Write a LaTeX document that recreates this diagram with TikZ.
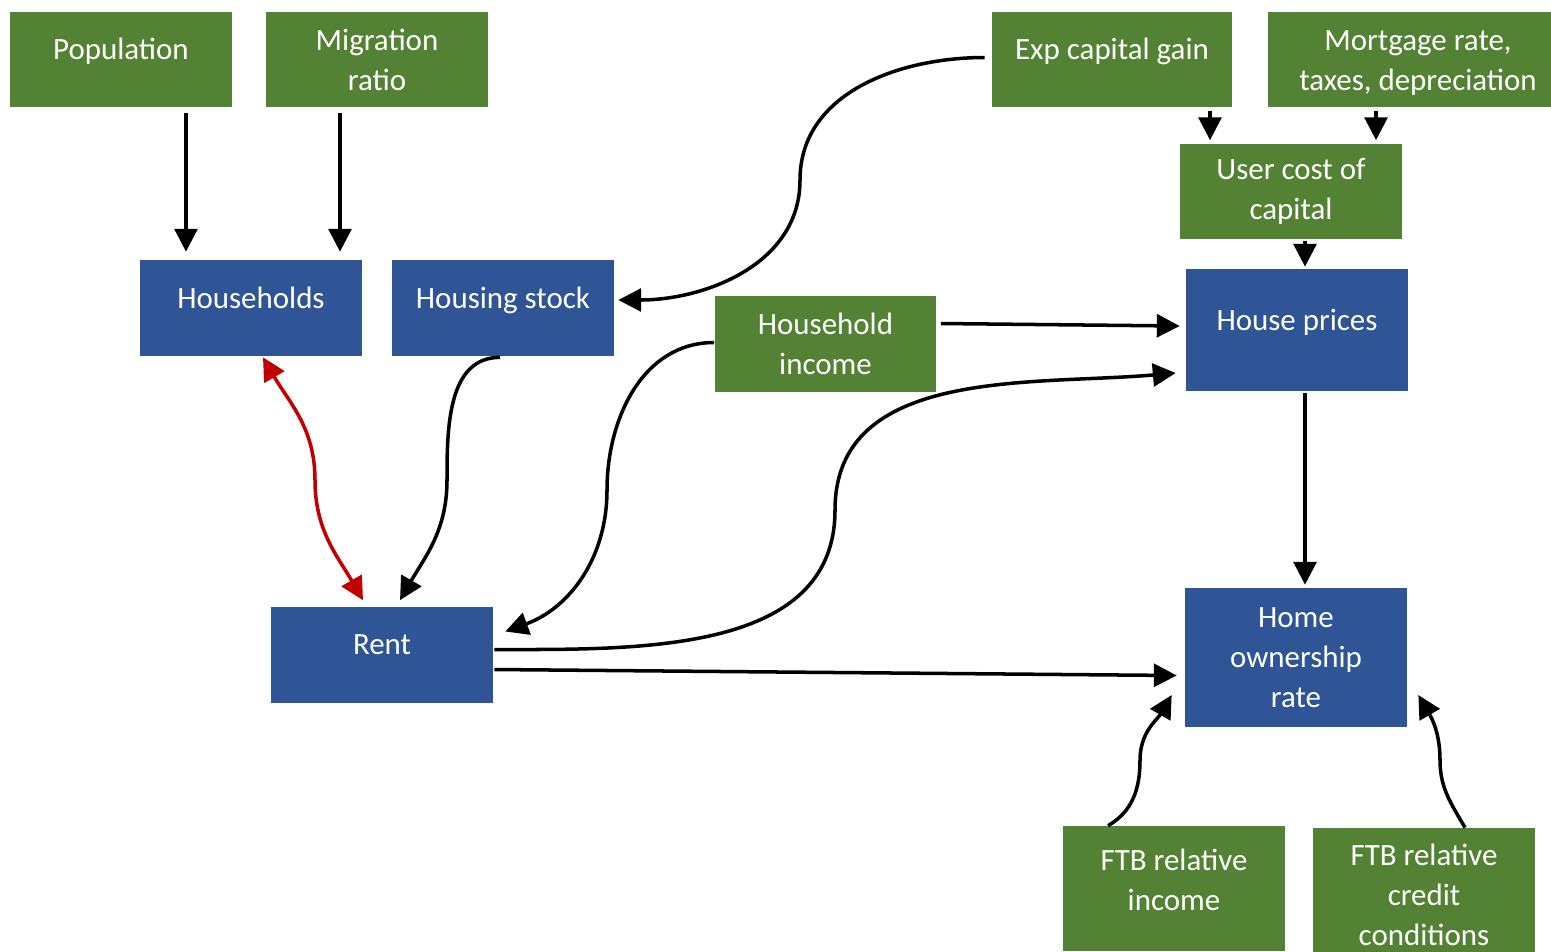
\documentclass[tikz,border=0pt]{standalone}
\usepackage{fontspec}
\setmainfont{Carlito}
\usetikzlibrary{arrows.meta,calc}
\definecolor{boxgreen}{HTML}{548235}
\definecolor{boxblue}{HTML}{2F5597}
\definecolor{linkred}{HTML}{C00000}
\begin{document}
\begin{tikzpicture}[x=0.02cm,y=-0.02cm,
    box/.style={rectangle,minimum width=4.44cm,minimum height=1.92cm,text=white,align=center,
        font=\fontsize{17.6}{22.8}\selectfont},
    gbox/.style={box,fill=boxgreen},
    bbox/.style={box,fill=boxblue},
    single/.style={text height=14pt,text depth=14pt},
    arr/.style={-{Triangle[length=13pt,width=13pt]},line width=2pt},
    redarr/.style={{Triangle[length=13pt,width=13pt]}-{Triangle[length=13pt,width=13pt]},line width=2pt,linkred}]
\useasboundingbox (0,0) rectangle (1551,951);

% exogenous inputs
\node[gbox,single] (pop) at (121,59.5) {Population};
\node[gbox] (mig) at (377,59.5) {Migration\\ratio};
\node[gbox,single,minimum width=4.8cm] (ecg) at (1112,59.5) {Exp capital gain};
\node[gbox,minimum width=6cm,text height=36pt,text depth=0.7pt] (mort) at (1418,59.5) {Mortgage rate,\\taxes, depreciation};
\node[gbox] (ucc) at (1291,191.5) {User cost of\\capital};
\node[gbox] (inc) at (825.5,343.5) {Household\\income};
\node[gbox,minimum height=2.5cm,text height=30pt,text depth=4.6pt] (ftbi) at (1174,888.5) {FTB relative\\income};
\node[gbox,minimum height=2.68cm] (ftbc) at (1424,895) {FTB relative\\credit\\conditions};

% model variables
\node[bbox,single] (hh) at (251,308) {Households};
\node[bbox,single] (hs) at (503,308) {Housing stock};
\node[bbox,single,minimum height=2.44cm] (hp) at (1297,330) {House prices};
\node[bbox,single] (rent) at (382,654.5) {Rent};
\node[bbox,minimum height=2.78cm] (hor) at (1296,657.5) {Home\\ownership\\rate};

% straight links
\draw[arr] ($(pop.south)+(65,5)$) -- ($(hh.north)+(-65,-8)$);
\draw[arr] ($(mig.south)+(-37,5)$) -- ($(hh.north)+(89,-8)$);
\draw[arr] ($(ecg.south)+(98,3)$) -- ($(ucc.north)+(-81,-3)$);
\draw[arr] ($(mort.south)+(-42,3)$) -- ($(ucc.north)+(85,-3)$);
\draw[arr] ($(ucc.south)+(14,1)$) -- ($(hp.north)+(8,-2)$);
\draw[arr] ($(hp.south)+(8,2)$) -- ($(hor.north)+(9,-3)$);
\draw[arr] ($(inc.east)+(4,-20)$) -- ($(hp.west)+(-6,-4)$);
\draw[arr] ($(rent.east)+(1,15)$) -- ($(hor.west)+(-8,18)$);

% curved links
\draw[arr] ($(ecg.west)+(-7,-2)$) to[out=180,in=90] (800,180) to[out=-90,in=0] ($(hs.east)+(4,-8)$);
\draw[arr] ($(hs.south)+(-3,1)$) to[out=180,in=90] (447,480) to[out=-90,in=60] ($(rent.north)+(18,-6)$);
\draw[redarr] ($(hh.south)+(12,1)$) to[out=-60,in=90] (315,480) to[out=-90,in=120] ($(rent.north)+(-19,-6)$);
\draw[arr] ($(inc.west)+(0,-1)$) to[out=180,in=90] (607,490) to[out=-90,in=20] ($(rent.east)+(12,-23)$);
\draw[arr] ($(rent.east)+(1,-5)$) to[out=0,in=-90] (835,510) to[out=90,in=185] ($(hp.west)+(-10,43)$);
\draw[arr] ($(ftbi.north)+(-66,0)$) to[out=30,in=-90] (1140,760) to[out=90,in=-120] ($(hor.west)+(-13,37.5)$);
\draw[arr] ($(ftbc.north)+(41,0)$) to[out=120,in=-90] (1440,760) to[out=90,in=-60] ($(hor.east)+(11,37.5)$);
\end{tikzpicture}
\end{document}
